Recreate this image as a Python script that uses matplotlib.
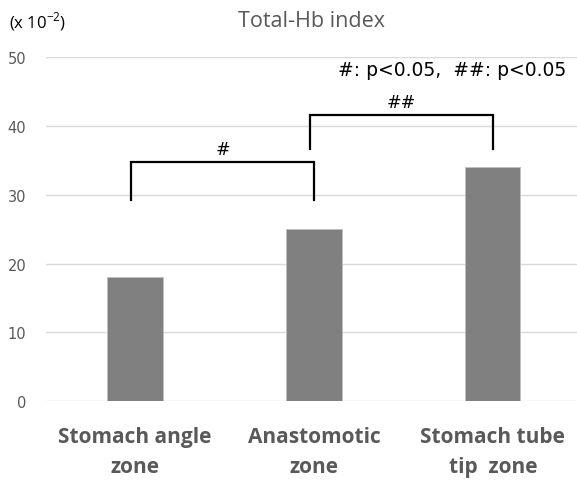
import matplotlib
matplotlib.use("Agg")
import matplotlib.pyplot as plt
import numpy as np

categories = ["Stomach angle\nzone", "Anastomotic\nzone", "Stomach tube\ntip  zone"]
values = [18, 25, 34]
yticks = [0, 10, 20, 30, 40, 50]

# significance brackets: (left idx, right idx, top, leg bottom, label)
brackets = [
    (-0.02, 1.0, 34.7, 29.3, "#"),
    (0.98, 2.0, 41.6, 36.6, "##"),
]

fig = plt.figure(figsize=(5.77, 4.81), dpi=100)
ax = fig.add_axes([0.079, 0.164, 0.93, 0.715])

x = np.arange(len(categories))
ax.bar(x, values, width=0.31, color="#808080", edgecolor="#bfbfbf", linewidth=0.6, zorder=3)

ax.set_xlim(-0.5, 2.5)
ax.set_ylim(0, 50)
ax.set_yticks(yticks)
ax.yaxis.grid(True, color="#d9d9d9", linewidth=1.0, zorder=0)
for s in ax.spines.values():
    s.set_visible(False)
ax.tick_params(axis="both", length=0)
ax.tick_params(axis="y", labelsize=10.5, labelcolor="#595959", pad=14)
ax.set_xticks(x)
ax.set_xticklabels(categories, fontsize=15, fontweight="bold", color="#595959",
                   family=["Open Sans", "DejaVu Sans"], linespacing=1.55)
ax.tick_params(axis="x", pad=18)

for x0, x1, top, bot, lab in brackets:
    ax.plot([x0, x0, x1, x1], [bot, top, top, bot], color="black", lw=1.6, zorder=4,
            solid_joinstyle="miter")
    ax.text((x0 + x1) / 2, top + 0.6, lab, ha="center", va="bottom", fontsize=12.5, color="black")

ax.text(0.97, 0.965, "#: p<0.05,  ##: p<0.05", transform=ax.transAxes, ha="right", va="center",
        fontsize=13.5, color="black")

fig.text(0.54, 0.955, "Total-Hb index", ha="center", va="center", fontsize=15.5,
         color="#595959", family=["Open Sans", "DejaVu Sans"])
fig.text(0.015, 0.955, r"(x 10$^{\mathregular{-2}}$)", ha="left", va="center", fontsize=12,
         color="black", family=["Open Sans", "DejaVu Sans"])

fig.savefig("out.png", dpi=100)
